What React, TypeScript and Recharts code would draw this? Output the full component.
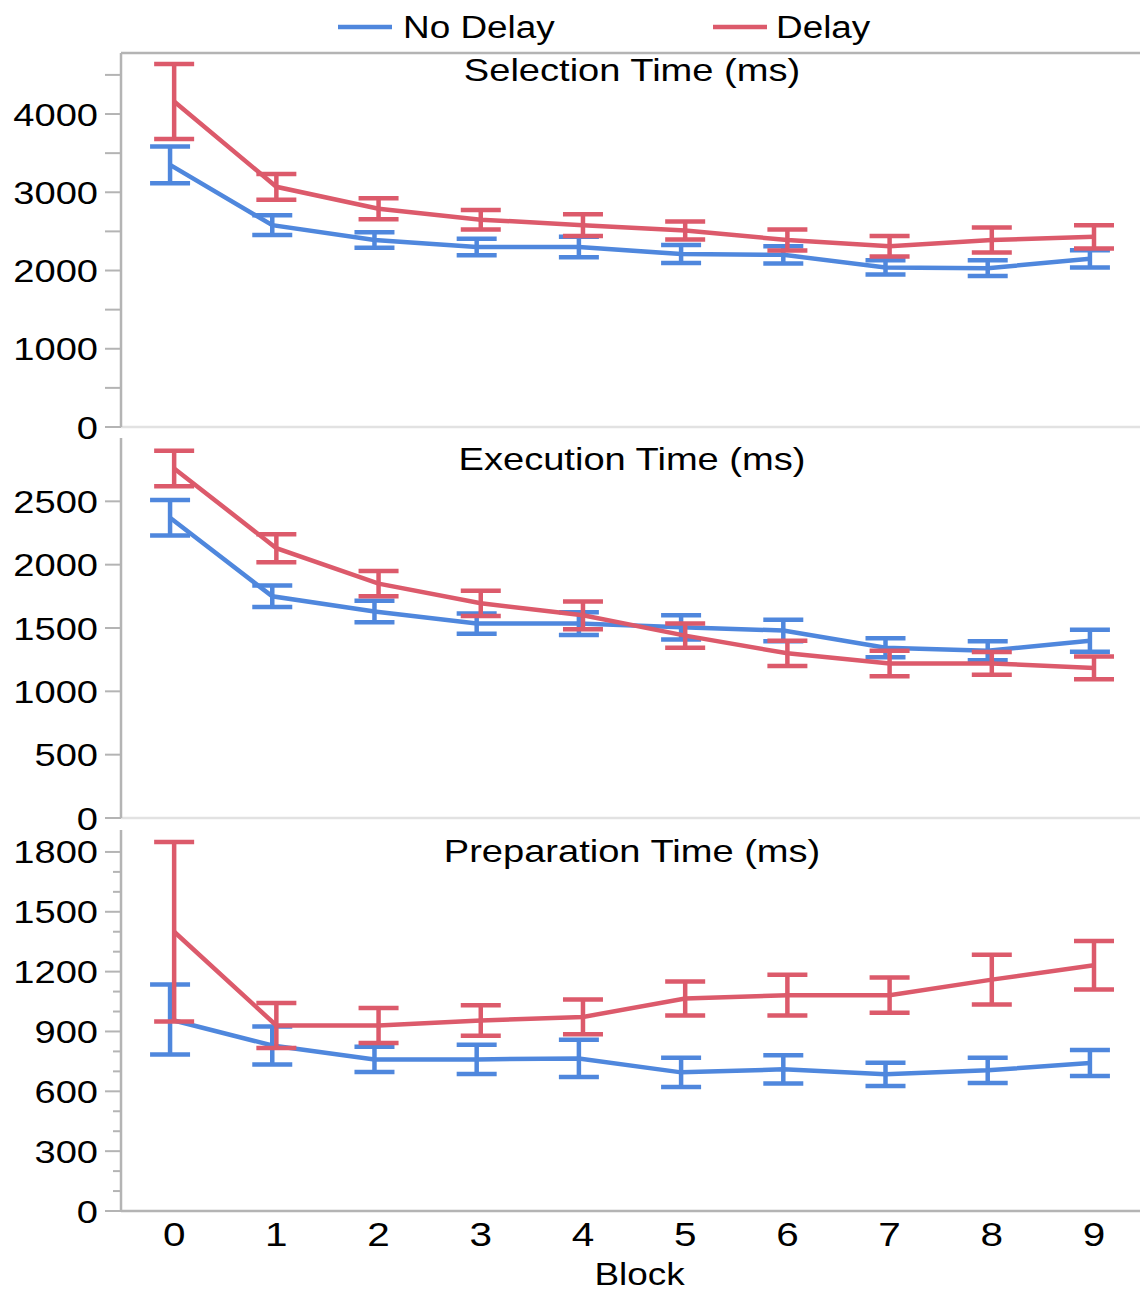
import React from 'react';
import { LineChart, Line, XAxis, YAxis, ErrorBar, ReferenceLine } from 'recharts';

// blocks on the x axis
const BLOCKS = [0, 1, 2, 3, 4, 5, 6, 7, 8, 9];

// Selection Time (ms)
const selNoDelay = [3350, 2580, 2390, 2300, 2300, 2210, 2200, 2040, 2030, 2150];
const selNoDelayErr = [235, 125, 100, 105, 130, 115, 110, 90, 100, 110];
const selDelay = [4160, 3070, 2790, 2650, 2580, 2510, 2390, 2310, 2390, 2430];
const selDelayErr = [480, 165, 135, 125, 140, 115, 135, 130, 160, 150];

// Execution Time (ms)
const exeNoDelay = [2370, 1750, 1630, 1535, 1535, 1505, 1480, 1345, 1320, 1400];
const exeNoDelayErr = [140, 85, 85, 80, 90, 95, 85, 75, 75, 87];
const exeDelay = [2760, 2130, 1850, 1695, 1600, 1440, 1300, 1220, 1220, 1185];
const exeDelayErr = [140, 110, 100, 100, 110, 95, 100, 100, 90, 90];

// Preparation Time (ms)
const prepNoDelay = [960, 830, 760, 760, 765, 695, 710, 685, 705, 742];
const prepNoDelayErr = [175, 95, 63, 73, 93, 73, 71, 58, 63, 65];
const prepDelay = [1400, 930, 930, 955, 973, 1065, 1082, 1082, 1160, 1232];
const prepDelayErr = [450, 113, 88, 77, 87, 85, 102, 88, 125, 121];

// y tick values
const selTicks = [0, 500, 1000, 1500, 2000, 2500, 3000, 3500, 4000, 4500];
const exeTicks = [0, 500, 1000, 1500, 2000, 2500];
const prepTicks = [0, 100, 200, 300, 400, 500, 600, 700, 800, 900, 1000, 1100, 1200, 1300, 1400, 1500, 1600, 1700, 1800];

const BLUE = '#4f87dd';
const RED = '#dc5a6b';
const AXIS = '#b4b4b4';
const FONT = '"Liberation Sans", Arial, Helvetica, sans-serif';
const STRETCH = 1.19; // the source figure is a little wider than tall
const X_DOMAIN = [-0.52, 9.45];
const NO_DELAY_SHIFT = -0.04; // small dodge so the bars don't sit on top of each other
const LINE_W = 4.5;

const rows = (values: number[], errs: number[], shift: number) =>
  BLOCKS.map((b, i) => ({ x: b + shift, y: values[i], err: errs[i] }));

function YTick(props: any) {
  const { x, y, payload, labelStep, longStep } = props;
  const v = payload.value;
  const ax = x + 16;
  const long = v % longStep === 0;
  return (
    <g>
      <line x1={ax - (long ? 16 : 8)} x2={ax} y1={y} y2={y} stroke={AXIS} strokeWidth={2} />
      {v % labelStep === 0 && (
        <g transform={`translate(${ax - 23},${y}) scale(${STRETCH},1)`}>
          <text x={0} y={0} dy="0.36em" textAnchor="end" fontSize={32} fontFamily={FONT} fill="#000">
            {v}
          </text>
        </g>
      )}
    </g>
  );
}

function XTick(props: any) {
  const { x, y, payload } = props;
  return (
    <g transform={`translate(${x},${y + 35}) scale(${STRETCH},1)`}>
      <text x={0} y={0} textAnchor="middle" fontSize={34} fontFamily={FONT} fill="#000">
        {payload.value}
      </text>
    </g>
  );
}

function BlockLabel(props: any) {
  const vb = props.viewBox || {};
  const cx = vb.x + vb.width / 2 + 9;
  return (
    <g transform={`translate(${cx},${vb.y + 74}) scale(${STRETCH},1)`}>
      <text x={0} y={0} textAnchor="middle" fontSize={31} fontFamily={FONT} fill="#000">
        Block
      </text>
    </g>
  );
}

interface PanelProps {
  top: number;
  height: number;
  marginTop: number;
  marginBottom: number;
  axisHeight: number;
  domain: [number, number];
  ticks: number[];
  labelStep: number;
  longStep: number;
  noDelay: number[];
  noDelayErr: number[];
  delay: number[];
  delayErr: number[];
  frameTop?: boolean;
  bottom?: boolean;
}

function Panel(p: PanelProps) {
  return (
    <div style={{ position: 'absolute', left: 0, top: p.top, width: 1140, height: p.height }}>
      <LineChart
        width={1140}
        height={p.height}
        margin={{ top: p.marginTop, right: 0, bottom: p.marginBottom, left: 0 }}
        style={{ overflow: 'visible' }}
      >
        {p.bottom ? (
          <XAxis
            type="number"
            dataKey="x"
            domain={X_DOMAIN}
            ticks={BLOCKS}
            interval={0}
            height={p.axisHeight}
            tickLine={false}
            tickSize={0}
            tickMargin={0}
            axisLine={{ stroke: AXIS, strokeWidth: 2.5 }}
            tick={(t: any) => <XTick {...t} />}
            label={(l: any) => <BlockLabel {...l} />}
          />
        ) : (
          <XAxis
            type="number"
            dataKey="x"
            domain={X_DOMAIN}
            height={p.axisHeight}
            tick={false}
            tickLine={false}
            axisLine={{ stroke: '#e2e2e2', strokeWidth: 2.5 }}
          />
        )}
        <YAxis
          type="number"
          domain={p.domain}
          ticks={p.ticks}
          interval={0}
          width={121}
          tickLine={false}
          tickSize={16}
          tickMargin={0}
          axisLine={{ stroke: AXIS, strokeWidth: 2.5 }}
          tick={(t: any) => <YTick {...t} labelStep={p.labelStep} longStep={p.longStep} />}
        />
        {p.frameTop && <ReferenceLine y={p.domain[1]} stroke={AXIS} strokeWidth={2.5} />}
        <Line
          data={rows(p.noDelay, p.noDelayErr, NO_DELAY_SHIFT)}
          dataKey="y"
          name="No Delay"
          stroke={BLUE}
          strokeWidth={LINE_W}
          dot={false}
          isAnimationActive={false}
        >
          <ErrorBar
            dataKey="err"
            width={20}
            strokeWidth={LINE_W}
            stroke={BLUE}
            direction="y"
            isAnimationActive={false}
          />
        </Line>
        <Line
          data={rows(p.delay, p.delayErr, 0)}
          dataKey="y"
          name="Delay"
          stroke={RED}
          strokeWidth={LINE_W}
          dot={false}
          isAnimationActive={false}
        >
          <ErrorBar
            dataKey="err"
            width={20}
            strokeWidth={LINE_W}
            stroke={RED}
            direction="y"
            isAnimationActive={false}
          />
        </Line>
      </LineChart>
    </div>
  );
}

function Stretched({ x, y, anchor, size, children }: any) {
  return (
    <g transform={`translate(${x},${y}) scale(${STRETCH},1)`}>
      <text x={0} y={0} textAnchor={anchor} fontSize={size} fontFamily={FONT} fill="#000">
        {children}
      </text>
    </g>
  );
}

export default function App() {
  return (
    <div style={{ position: 'absolute', left: 0, top: 0, width: 1140, height: 1292, background: '#fff', overflow: 'hidden' }}>
      <Panel
        top={0}
        height={460}
        marginTop={53}
        marginBottom={20}
        axisHeight={13}
        domain={[0, 4780]}
        ticks={selTicks}
        labelStep={1000}
        longStep={500}
        noDelay={selNoDelay}
        noDelayErr={selNoDelayErr}
        delay={selDelay}
        delayErr={selDelayErr}
        frameTop
      />
      <Panel
        top={426}
        height={425}
        marginTop={12}
        marginBottom={20}
        axisHeight={13}
        domain={[0, 3000]}
        ticks={exeTicks}
        labelStep={500}
        longStep={500}
        noDelay={exeNoDelay}
        noDelayErr={exeNoDelayErr}
        delay={exeDelay}
        delayErr={exeDelayErr}
      />
      <Panel
        top={818}
        height={474}
        marginTop={12}
        marginBottom={0}
        axisHeight={81}
        domain={[0, 1910]}
        ticks={prepTicks}
        labelStep={300}
        longStep={300}
        noDelay={prepNoDelay}
        noDelayErr={prepNoDelayErr}
        delay={prepDelay}
        delayErr={prepDelayErr}
        bottom
      />

      {/* legend + panel titles */}
      <svg width={1140} height={1292} style={{ position: 'absolute', left: 0, top: 0, pointerEvents: 'none' }}>
        <line x1={338} x2={392} y1={27} y2={27} stroke={BLUE} strokeWidth={LINE_W} />
        <Stretched x={403} y={38} anchor="start" size={31}>No Delay</Stretched>
        <line x1={713} x2={767} y1={27} y2={27} stroke={RED} strokeWidth={LINE_W} />
        <Stretched x={776} y={38} anchor="start" size={31}>Delay</Stretched>

        <Stretched x={632} y={81} anchor="middle" size={32}>Selection Time (ms)</Stretched>
        <Stretched x={632} y={470} anchor="middle" size={32}>Execution Time (ms)</Stretched>
        <Stretched x={632} y={862} anchor="middle" size={32}>Preparation Time (ms)</Stretched>
      </svg>
    </div>
  );
}
